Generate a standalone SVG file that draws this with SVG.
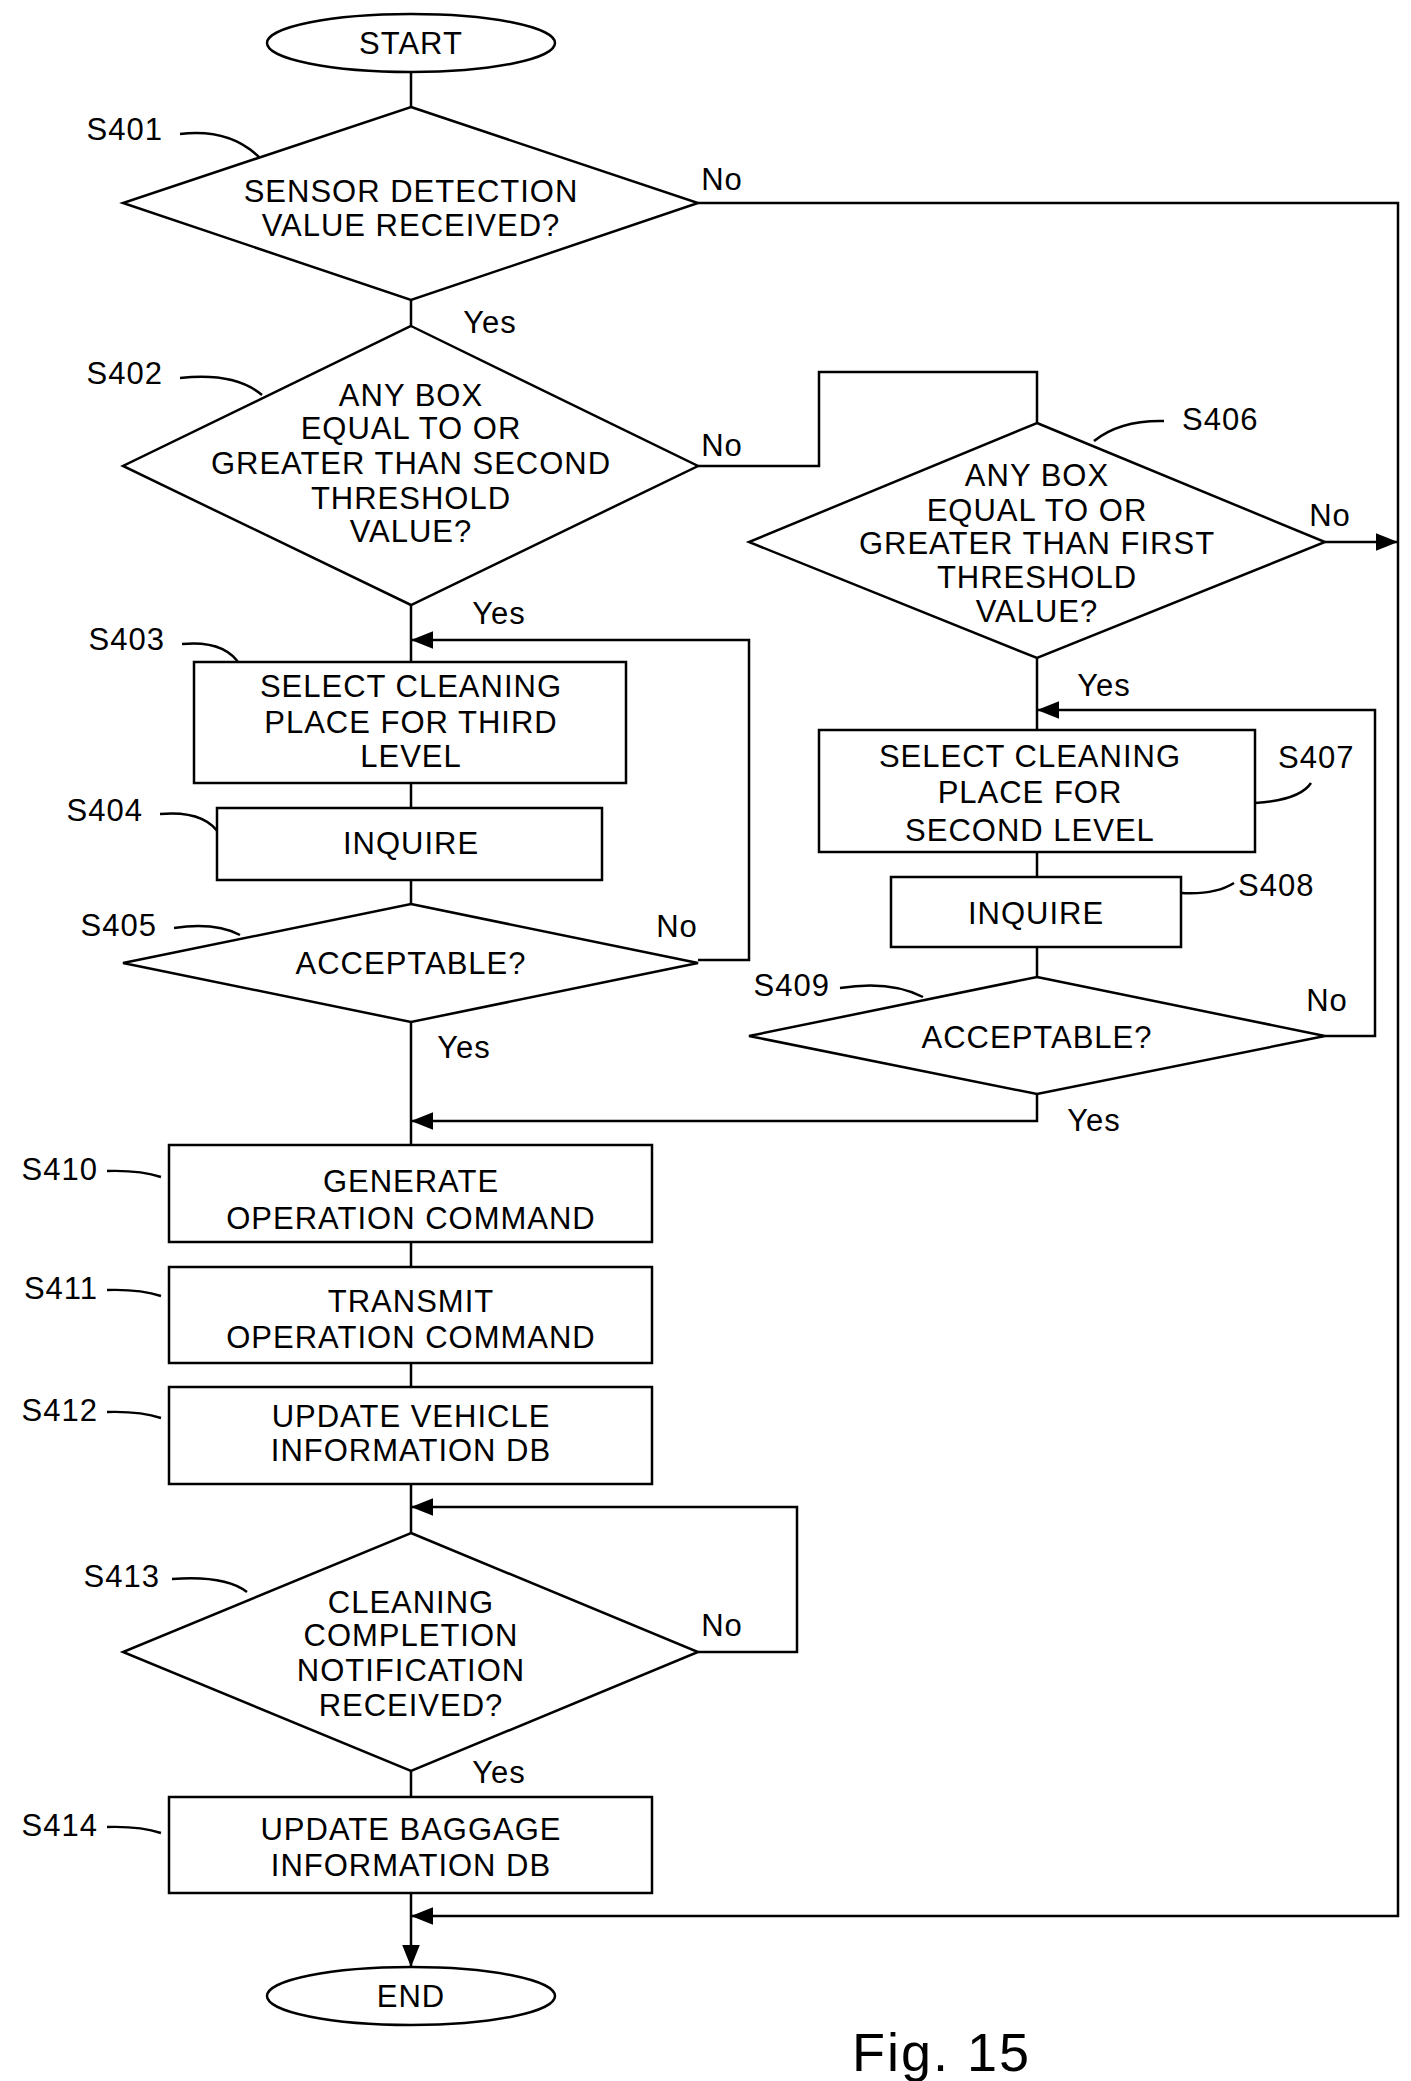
<svg xmlns="http://www.w3.org/2000/svg" width="1411" height="2081" viewBox="0 0 1411 2081">
<style>
.s{fill:#fff;stroke:#000;stroke-width:2.5}
.l{fill:none;stroke:#000;stroke-width:2.5}
text{font-family:"Liberation Sans",Arial,sans-serif;font-size:31px;fill:#000;letter-spacing:1px}
.c{text-anchor:middle}
.e{text-anchor:end}
</style>
<defs><marker id="b" viewBox="0 0 10 10" refX="10" refY="5" markerWidth="22" markerHeight="22" markerUnits="userSpaceOnUse" orient="auto"><path d="M0,1L10,5L0,9z" fill="#000"/></marker></defs>
<g id="connectors">
<path class="l" d="M411,72V107M411,300V326M411,605V662M411,783V808M411,880V904M411,1022V1145M411,1242V1267M411,1363V1387M411,1484V1533M411,1771V1797"/>
<path class="l" d="M411,1893V1967" marker-end="url(#b)"/>
<path class="l" d="M698,203H1398V1916H411" marker-end="url(#b)"/>
<path class="l" d="M698,466H819V372H1037V423"/>
<path class="l" d="M1325,542H1398" marker-end="url(#b)"/>
<path class="l" d="M698,960H749V640H411" marker-end="url(#b)"/>
<path class="l" d="M1037,658V730M1037,852V877M1037,947V977"/>
<path class="l" d="M1325,1036H1375V710H1037" marker-end="url(#b)"/>
<path class="l" d="M1037,1094V1121H411" marker-end="url(#b)"/>
<path class="l" d="M698,1652H797V1507H411" marker-end="url(#b)"/>
<path class="l" d="M180,134Q230,128 260,158M180,378Q235,372 262,395M182,644Q225,640 240,665M160,814Q205,810 220,835M174,928Q215,922 240,935M1094,441Q1120,420 1164,421M1255,803Q1300,800 1311,783M1181,893Q1215,895 1234,883M840,988Q890,980 923,997M107,1171Q140,1170 161,1177M107,1290Q140,1289 161,1296M107,1412Q140,1411 161,1418M172,1579Q225,1575 247,1592M107,1827Q140,1826 161,1833"/>
</g>
<g id="start"><ellipse class="s" cx="411" cy="43" rx="144" ry="29"/><text class="c" x="411" y="54">START</text></g>
<g id="S401"><path class="s" d="M411,107L698,203L411,300L123,203z"/><text class="c" x="411" y="202">SENSOR DETECTION</text><text class="c" x="411" y="236">VALUE RECEIVED?</text><text class="e" x="163" y="140">S401</text></g>
<g id="S402"><path class="s" d="M411,326L698,466L411,605L123,466z"/><text class="c" x="411" y="406">ANY BOX</text><text class="c" x="411" y="439">EQUAL TO OR</text><text class="c" x="411" y="474">GREATER THAN SECOND</text><text class="c" x="411" y="509">THRESHOLD</text><text class="c" x="411" y="542">VALUE?</text><text class="e" x="163" y="384">S402</text></g>
<g id="S403"><rect class="s" x="194" y="662" width="432" height="121"/><text class="c" x="411" y="697">SELECT CLEANING</text><text class="c" x="411" y="733">PLACE FOR THIRD</text><text class="c" x="411" y="767">LEVEL</text><text class="e" x="165" y="650">S403</text></g>
<g id="S404"><rect class="s" x="217" y="808" width="385" height="72"/><text class="c" x="411" y="854">INQUIRE</text><text class="e" x="143" y="821">S404</text></g>
<g id="S405"><path class="s" d="M411,904L698,963L411,1022L123,963z"/><text class="c" x="411" y="974">ACCEPTABLE?</text><text class="e" x="157" y="936">S405</text></g>
<g id="S406"><path class="s" d="M1037,423L1325,542L1037,658L749,542z"/><text class="c" x="1037" y="486">ANY BOX</text><text class="c" x="1037" y="521">EQUAL TO OR</text><text class="c" x="1037" y="554">GREATER THAN FIRST</text><text class="c" x="1037" y="588">THRESHOLD</text><text class="c" x="1037" y="622">VALUE?</text><text x="1182" y="430">S406</text></g>
<g id="S407"><rect class="s" x="819" y="730" width="436" height="122"/><text class="c" x="1030" y="767">SELECT CLEANING</text><text class="c" x="1030" y="803">PLACE FOR</text><text class="c" x="1030" y="841">SECOND LEVEL</text><text x="1278" y="768">S407</text></g>
<g id="S408"><rect class="s" x="891" y="877" width="290" height="70"/><text class="c" x="1036" y="924">INQUIRE</text><text x="1238" y="896">S408</text></g>
<g id="S409"><path class="s" d="M1037,977L1325,1036L1037,1094L749,1036z"/><text class="c" x="1037" y="1048">ACCEPTABLE?</text><text class="e" x="830" y="996">S409</text></g>
<g id="S410"><rect class="s" x="169" y="1145" width="483" height="97"/><text class="c" x="411" y="1192">GENERATE</text><text class="c" x="411" y="1229">OPERATION COMMAND</text><text class="e" x="98" y="1180">S410</text></g>
<g id="S411"><rect class="s" x="169" y="1267" width="483" height="96"/><text class="c" x="411" y="1312">TRANSMIT</text><text class="c" x="411" y="1348">OPERATION COMMAND</text><text class="e" x="98" y="1299">S411</text></g>
<g id="S412"><rect class="s" x="169" y="1387" width="483" height="97"/><text class="c" x="411" y="1427">UPDATE VEHICLE</text><text class="c" x="411" y="1461">INFORMATION DB</text><text class="e" x="98" y="1421">S412</text></g>
<g id="S413"><path class="s" d="M411,1533L698,1652L411,1771L123,1652z"/><text class="c" x="411" y="1613">CLEANING</text><text class="c" x="411" y="1646">COMPLETION</text><text class="c" x="411" y="1681">NOTIFICATION</text><text class="c" x="411" y="1716">RECEIVED?</text><text class="e" x="160" y="1587">S413</text></g>
<g id="S414"><rect class="s" x="169" y="1797" width="483" height="96"/><text class="c" x="411" y="1840">UPDATE BAGGAGE</text><text class="c" x="411" y="1876">INFORMATION DB</text><text class="e" x="98" y="1836">S414</text></g>
<g id="end"><ellipse class="s" cx="411" cy="1996" rx="144" ry="29"/><text class="c" x="411" y="2007">END</text></g>
<g id="labels">
<text class="c" x="722" y="190">No</text><text class="c" x="490" y="333">Yes</text>
<text class="c" x="722" y="456">No</text><text class="c" x="499" y="624">Yes</text>
<text class="c" x="1330" y="526">No</text><text class="c" x="1104" y="696">Yes</text>
<text class="c" x="677" y="937">No</text><text class="c" x="464" y="1058">Yes</text>
<text class="c" x="1327" y="1011">No</text><text class="c" x="1094" y="1131">Yes</text>
<text class="c" x="722" y="1636">No</text><text class="c" x="499" y="1783">Yes</text>
<text x="852" y="2071" style="font-size:54px;letter-spacing:2px">Fig. 15</text>
</g>
</svg>
